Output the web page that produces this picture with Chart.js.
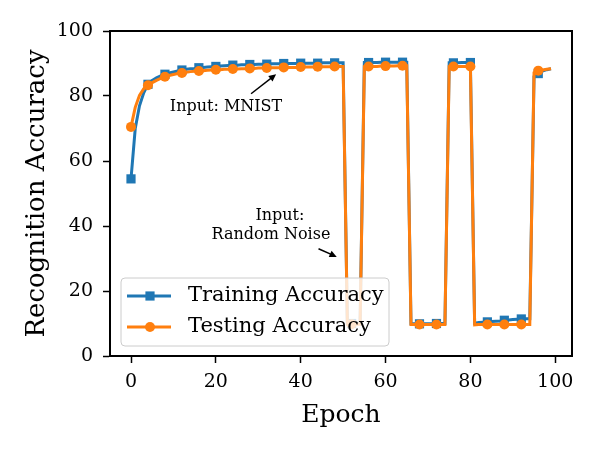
<!DOCTYPE html>
<html>
<head>
<meta charset="utf-8">
<script src="https://cdn.jsdelivr.net/npm/chart.js@4.4.1/dist/chart.umd.min.js"></script>
<style>
    html, body { margin: 0; padding: 0; background: #fff; }
</style>
</head>
<body>
<canvas id="chart" width="600" height="450"></canvas>
<script>
let epochs = [];
for (let i = 0; i < 100; i++) epochs.push(i);

let trainAcc = [
    54.5, 70.0, 77.0, 81.0, 83.6, 84.8, 85.6, 86.2, 86.7, 87.1,
    87.4, 87.7, 88.0, 88.2, 88.4, 88.5, 88.7, 88.8, 88.9, 89.0,
    89.1, 89.2, 89.3, 89.4, 89.5, 89.5, 89.6, 89.6, 89.7, 89.7,
    89.8, 89.8, 89.8, 89.9, 89.9, 89.9, 90.0, 90.0, 90.0, 90.0,
    90.1, 90.1, 90.1, 90.1, 90.1, 90.2, 90.2, 90.2, 90.2, 90.2,
    90.2, 10.1, 10.0, 10.0, 10.0, 90.3, 90.3, 90.3, 90.3, 90.4,
    90.4, 90.4, 90.4, 90.4, 90.4, 90.4, 9.9, 9.9, 9.9, 9.9,
    9.9, 9.9, 10.0, 10.0, 10.0, 90.2, 90.2, 90.2, 90.3, 90.3,
    90.3, 10.1, 10.3, 10.4, 10.5, 10.6, 10.7, 10.8, 11.0, 11.1,
    11.2, 11.3, 11.4, 11.5, 11.5, 86.0, 86.9, 87.7, 88.1, 88.4
];
let testAcc = [
    70.5, 76.5, 80.2, 82.2, 83.3, 84.1, 84.8, 85.4, 85.9, 86.3,
    86.6, 86.9, 87.1, 87.3, 87.5, 87.6, 87.7, 87.8, 87.9, 88.0,
    88.1, 88.1, 88.2, 88.2, 88.3, 88.3, 88.4, 88.4, 88.5, 88.5,
    88.6, 88.6, 88.6, 88.7, 88.7, 88.7, 88.8, 88.8, 88.8, 88.8,
    88.9, 88.9, 88.9, 88.9, 89.0, 89.0, 89.0, 89.0, 89.1, 89.1,
    89.1, 9.8, 9.8, 9.8, 9.8, 89.0, 89.1, 89.1, 89.1, 89.2,
    89.2, 89.2, 89.2, 89.3, 89.3, 89.3, 9.7, 9.7, 9.7, 9.7,
    9.7, 9.7, 9.7, 9.7, 9.7, 89.0, 89.1, 89.1, 89.1, 89.1,
    89.1, 9.6, 9.7, 9.7, 9.7, 9.7, 9.7, 9.7, 9.7, 9.7,
    9.7, 9.7, 9.7, 9.7, 9.7, 87.2, 87.8, 88.0, 88.2, 88.4
];
let xTicks = [0, 20, 40, 60, 80, 100];
let yTicks = [0, 20, 40, 60, 80, 100];

const blue = '#1f77b4';
const orange = '#ff7f0e';
const serif = "'DejaVu Serif', serif";
const markEvery = 4;

Chart.defaults.font.family = serif;
Chart.defaults.color = '#000';

// text annotations, anchored in data units
function drawArrow(ctx, x1, y1, x2, y2) {
    let ang = Math.atan2(y2 - y1, x2 - x1);
    ctx.beginPath();
    ctx.moveTo(x1, y1);
    ctx.lineTo(x2 - 3 * Math.cos(ang), y2 - 3 * Math.sin(ang));
    ctx.stroke();
    ctx.beginPath();
    ctx.moveTo(x2, y2);
    ctx.lineTo(x2 - 8 * Math.cos(ang - 0.45), y2 - 8 * Math.sin(ang - 0.45));
    ctx.lineTo(x2 - 8 * Math.cos(ang + 0.45), y2 - 8 * Math.sin(ang + 0.45));
    ctx.closePath();
    ctx.fill();
}

const extras = {
    id: 'extras',
    afterDatasetsDraw(chart) {
        let ctx = chart.ctx
           ,a = chart.chartArea
           ,sx = chart.scales.x
           ,sy = chart.scales.y;
        ctx.save();

        // top and right spines
        ctx.strokeStyle = '#000';
        ctx.lineWidth = 2;
        ctx.beginPath();
        ctx.moveTo(a.left, a.top);
        ctx.lineTo(a.right, a.top);
        ctx.lineTo(a.right, a.bottom);
        ctx.stroke();

        // annotations
        ctx.fillStyle = '#000';
        ctx.font = '16px ' + serif;
        ctx.textAlign = 'center';
        ctx.textBaseline = 'alphabetic';
        ctx.fillText('Input: MNIST', sx.getPixelForValue(22.4), sy.getPixelForValue(75.4));
        ctx.fillText('Input:', sx.getPixelForValue(35.1), sy.getPixelForValue(41.7));
        ctx.fillText('Random Noise', sx.getPixelForValue(33.0), sy.getPixelForValue(36.1));
        ctx.lineWidth = 1.5;
        drawArrow(ctx, sx.getPixelForValue(28.3), sy.getPixelForValue(80.7),
                       sx.getPixelForValue(34.2), sy.getPixelForValue(86.7));
        drawArrow(ctx, sx.getPixelForValue(44.2), sy.getPixelForValue(33.0),
                       sx.getPixelForValue(48.5), sy.getPixelForValue(30.5));

        // legend box, lower left
        let lx = a.left + 11, ly = a.bottom - 78, lw = 268, lh = 68;
        ctx.beginPath();
        ctx.roundRect(lx, ly, lw, lh, 4);
        ctx.fillStyle = 'rgba(255,255,255,0.8)';
        ctx.fill();
        ctx.strokeStyle = '#cccccc';
        ctx.lineWidth = 1;
        ctx.stroke();

        let rows = [
            {label: 'Training Accuracy', color: blue, style: 'rect', r: 6.5},
            {label: 'Testing Accuracy', color: orange, style: 'circle', r: 5}
        ];
        rows.forEach((row, i) => {
            let cy = ly + 18 + i * 31;
            ctx.strokeStyle = row.color;
            ctx.fillStyle = row.color;
            ctx.lineWidth = 3;
            ctx.beginPath();
            ctx.moveTo(lx + 6, cy);
            ctx.lineTo(lx + 50, cy);
            ctx.stroke();
            Chart.helpers.drawPoint(ctx, {pointStyle: row.style, radius: row.r, borderWidth: 0}, lx + 29, cy);
            ctx.fillStyle = '#000';
            ctx.font = '21px ' + serif;
            ctx.textAlign = 'left';
            ctx.textBaseline = 'middle';
            ctx.fillText(row.label, lx + 67, cy);
        });
        ctx.restore();
    }
};

let markRadius = r => c => (c.dataIndex % markEvery === 0 ? r : 0);

new Chart(document.getElementById('chart'), {
    type: 'line',
    data: {
        labels: epochs,
        datasets: [{
            label: 'Training Accuracy',
            data: trainAcc.map((v, i) => ({x: epochs[i], y: v})),
            borderColor: blue,
            backgroundColor: blue,
            borderWidth: 3,
            pointStyle: 'rect',
            pointRadius: markRadius(6.5),
            pointHoverRadius: 0,
            pointBorderWidth: 0,
            tension: 0,
            order: 1
        }, {
            label: 'Testing Accuracy',
            data: testAcc.map((v, i) => ({x: epochs[i], y: v})),
            borderColor: orange,
            backgroundColor: orange,
            borderWidth: 3,
            pointStyle: 'circle',
            pointRadius: markRadius(5),
            pointHoverRadius: 0,
            pointBorderWidth: 0,
            tension: 0,
            order: 0
        }]
    },
    options: {
        responsive: false,
        animation: false,
        layout: {padding: {left: 0, right: 28, top: 31, bottom: 0}},
        plugins: {
            legend: {display: false},
            tooltip: {enabled: false}
        },
        scales: {
            x: {
                type: 'linear',
                min: -4.95,
                max: 103.95,
                afterBuildTicks: s => { s.ticks = xTicks.map(v => ({value: v})); },
                afterFit: s => { s.height = 94; },
                ticks: {font: {size: 19}, color: '#000', padding: 8, autoSkip: false, maxRotation: 0},
                grid: {drawOnChartArea: false, drawTicks: true, tickLength: 7, tickWidth: 1.5, color: '#000'},
                border: {display: true, color: '#000', width: 2},
                title: {display: true, text: 'Epoch', font: {size: 25}, color: '#000', padding: {top: 0, bottom: 20}}
            },
            y: {
                min: 0,
                max: 100,
                afterBuildTicks: s => { s.ticks = yTicks.map(v => ({value: v})); },
                afterFit: s => { s.width = 110; },
                ticks: {font: {size: 19}, color: '#000', padding: 10},
                grid: {drawOnChartArea: false, drawTicks: true, tickLength: 7, tickWidth: 1.5, color: '#000'},
                border: {display: true, color: '#000', width: 2},
                title: {display: true, text: 'Recognition Accuracy', font: {size: 26}, color: '#000', padding: {top: 22, bottom: 0}}
            }
        }
    },
    plugins: [extras]
});
</script>
</body>
</html>
